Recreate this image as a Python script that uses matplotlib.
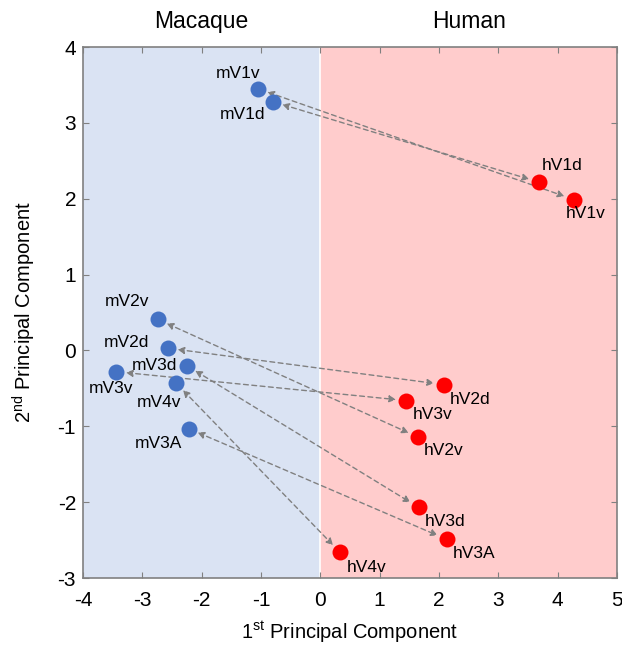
import matplotlib
matplotlib.use("Agg")
import matplotlib.pyplot as plt

plt.rcParams["font.family"] = ["Liberation Sans", "DejaVu Sans"]
plt.rcParams["axes.unicode_minus"] = False

# macaque areas (first PC, second PC)
mac_names = ["mV1v", "mV1d", "mV2v", "mV2d", "mV3d", "mV3v", "mV4v", "mV3A"]
mac_x = [-1.05, -0.80, -2.74, -2.57, -2.25, -3.44, -2.43, -2.22]
mac_y = [3.45, 3.28, 0.41, 0.03, -0.20, -0.28, -0.43, -1.03]

# human areas, same order as macaque (paired)
hum_names = ["hV1v", "hV1d", "hV2v", "hV2d", "hV3d", "hV3v", "hV4v", "hV3A"]
hum_x = [4.27, 3.68, 1.64, 2.08, 1.66, 1.44, 0.33, 2.13]
hum_y = [1.99, 2.22, -1.14, -0.45, -2.07, -0.66, -2.66, -2.49]

# label centre offsets in points
mac_off = [(-14, 11), (-22, -9), (-22, 13), (-30, 4), (-23, 0), (-4, -12), (-12, -14), (-22, -11)]
hum_off = [(9, -10), (17, 12), (19, -10), (19, -11), (19, -10), (19, -10), (19, -11), (20, -10)]

fig = plt.figure(figsize=(6.22, 6.47), dpi=100)
ax = fig.add_axes([0.1334, 0.1066, 0.8585, 0.8207])

ax.axvspan(-4, 0, color="#dae3f3", zorder=0, lw=0)
ax.axvspan(0, 5, color="#ffcccc", zorder=0, lw=0)
ax.axvline(0, color="white", lw=1.2, zorder=1)

for mx, my, hx, hy in zip(mac_x, mac_y, hum_x, hum_y):
    ax.annotate("", xy=(hx, hy), xytext=(mx, my),
                arrowprops=dict(arrowstyle="<|-|>", color="#808080", lw=1.0,
                                ls=(0, (3.5, 2.5)), shrinkA=7, shrinkB=7,
                                mutation_scale=10),
                zorder=2)

ax.plot(mac_x, mac_y, "o", color="#4472c4", ms=11.5, mec="none", zorder=3)
ax.plot(hum_x, hum_y, "o", color="#ff0000", ms=11.5, mec="none", zorder=3)

for n, x, y, o in zip(mac_names + hum_names, mac_x + hum_x, mac_y + hum_y,
                      mac_off + hum_off):
    ax.annotate(n, (x, y), xytext=o, textcoords="offset points",
                ha="center", va="center", fontsize=12.5, zorder=4)

ax.set_xlim(-4, 5)
ax.set_ylim(-3, 4)
ax.set_xticks(range(-4, 6))
ax.set_yticks(range(-3, 5))
ax.tick_params(direction="in", top=True, right=True, labelsize=15,
               color="#808080", length=4)
ax.tick_params(axis="x", pad=9)
ax.tick_params(axis="y", pad=5)
for s in ax.spines.values():
    s.set_color("#808080")
    s.set_linewidth(1.2)

ax.set_xlabel("1$^{\\mathregular{st}}$ Principal Component", fontsize=14.5, labelpad=7)
ax.set_ylabel("2$^{\\mathregular{nd}}$ Principal Component", fontsize=14.5, labelpad=14)

ax.text(-2, 4.34, "Macaque", ha="center", va="center", fontsize=16.5)
ax.text(2.5, 4.34, "Human", ha="center", va="center", fontsize=16.5)

fig.savefig("out.png", dpi=100)
